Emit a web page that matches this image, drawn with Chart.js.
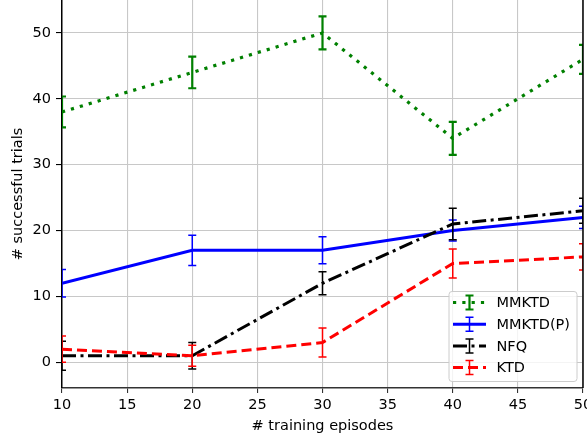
<!DOCTYPE html>
<html>
<head>
<meta charset="utf-8">
<script src="https://cdn.jsdelivr.net/npm/chart.js@4/dist/chart.umd.min.js"></script>
<style>
  html, body { margin: 0; padding: 0; background: #ffffff; }
  #wrap { width: 587px; height: 441px; }
</style>
</head>
<body>
<div id="wrap"><canvas id="c" width="587" height="441"></canvas></div>
<script>
// Training episodes on the x axis
const episodes = [10, 20, 30, 40, 50];

// Mean number of successful trials and the half-width of each error bar
const mmktd      = [38, 44, 50, 34, 46];
const mmktdErr   = [2.35, 2.4, 2.5, 2.5, 2.2];
const mmktdP     = [12, 17, 17, 20, 22];
const mmktdPErr  = [2.1, 2.3, 2.05, 1.6, 1.7];
const nfq        = [1, 1, 12, 21, 23];
const nfqErr     = [2.2, 2.0, 1.75, 2.4, 1.9];
const ktd        = [2, 1, 3, 15, 16];
const ktdErr     = [2.0, 1.6, 2.2, 2.2, 2.0];

const xTicks = [10, 15, 20, 25, 30, 35, 40, 45, 50];
const yTicks = [0, 10, 20, 30, 40, 50];

const FONT = "'DejaVu Sans', sans-serif";
const FONT_SIZE = 14.5;

function pts(ys) { return episodes.map((x, i) => ({ x: x, y: ys[i] })); }

const series = [
  { label: 'MMKTD',    values: mmktd,  err: mmktdErr,  color: '#008000', width: 3.2, dash: [3.2, 6.1],           errWidth: 2.2, order: 4 },
  { label: 'MMKTD(P)', values: mmktdP, err: mmktdPErr, color: '#0000ff', width: 3,   dash: [],                   errWidth: 1.5, order: 3 },
  { label: 'NFQ',      values: nfq,    err: nfqErr,    color: '#000000', width: 3,   dash: [14, 4.5, 3, 4.5],    errWidth: 1.5, order: 2 },
  { label: 'KTD',      values: ktd,    err: ktdErr,    color: '#ff0000', width: 3,   dash: [10, 5],              errWidth: 1.5, order: 1 }
];

// Vertical error bars with caps, drawn right after each dataset's line
const errorBars = {
  id: 'errorBars',
  afterDatasetDraw(chart, args) {
    const s = series[args.index];
    const ctx = chart.ctx;
    const yScale = chart.scales.y;
    const area = chart.chartArea;
    ctx.save();
    ctx.beginPath();
    ctx.rect(area.left, area.top, area.right - area.left, area.bottom - area.top);
    ctx.clip();
    ctx.strokeStyle = s.color;
    ctx.lineWidth = s.errWidth;
    ctx.setLineDash([]);
    args.meta.data.forEach((p, i) => {
      const v = s.values[i], e = s.err[i];
      const yTop = yScale.getPixelForValue(v + e);
      const yBot = yScale.getPixelForValue(v - e);
      const cap = 4;
      ctx.beginPath();
      ctx.moveTo(p.x, yTop); ctx.lineTo(p.x, yBot);
      ctx.moveTo(p.x - cap, yTop); ctx.lineTo(p.x + cap, yTop);
      ctx.moveTo(p.x - cap, yBot); ctx.lineTo(p.x + cap, yBot);
      ctx.stroke();
    });
    ctx.restore();
  }
};

// Right spine and the boxed legend in the lower right corner
const frameAndLegend = {
  id: 'frameAndLegend',
  afterDraw(chart) {
    const ctx = chart.ctx;
    const area = chart.chartArea;
    ctx.save();
    ctx.strokeStyle = '#000';
    ctx.lineWidth = 1.5;
    ctx.beginPath();
    ctx.moveTo(area.right, area.top);
    ctx.lineTo(area.right, area.bottom);
    ctx.stroke();

    const bx = 449, by = 291.5, bw = 128, bh = 90, r = 3;
    ctx.beginPath();
    ctx.moveTo(bx + r, by);
    ctx.arcTo(bx + bw, by, bx + bw, by + bh, r);
    ctx.arcTo(bx + bw, by + bh, bx, by + bh, r);
    ctx.arcTo(bx, by + bh, bx, by, r);
    ctx.arcTo(bx, by, bx + bw, by, r);
    ctx.closePath();
    ctx.fillStyle = 'rgba(255,255,255,0.8)';
    ctx.fill();
    ctx.strokeStyle = '#cccccc';
    ctx.lineWidth = 1;
    ctx.stroke();

    series.forEach((s, i) => {
      const y = 302.5 + i * 21.7;
      ctx.strokeStyle = s.color;
      ctx.lineWidth = s.width;
      ctx.setLineDash(s.dash);
      ctx.beginPath();
      ctx.moveTo(453, y); ctx.lineTo(486, y);
      ctx.stroke();
      ctx.setLineDash([]);
      ctx.lineWidth = s.errWidth;
      const cx = 469.5, h = 7, cap = 4;
      ctx.beginPath();
      ctx.moveTo(cx, y - h); ctx.lineTo(cx, y + h);
      ctx.moveTo(cx - cap, y - h); ctx.lineTo(cx + cap, y - h);
      ctx.moveTo(cx - cap, y + h); ctx.lineTo(cx + cap, y + h);
      ctx.stroke();
      ctx.fillStyle = '#000';
      ctx.font = FONT_SIZE + 'px ' + FONT;
      ctx.textBaseline = 'middle';
      ctx.textAlign = 'left';
      ctx.fillText(s.label, 496.5, y + 1);
    });
    ctx.restore();
  }
};

new Chart(document.getElementById('c'), {
  type: 'line',
  data: {
    datasets: series.map(s => ({
      label: s.label,
      data: pts(s.values),
      borderColor: s.color,
      backgroundColor: s.color,
      borderWidth: s.width,
      borderDash: s.dash,
      borderCapStyle: 'butt',
      pointRadius: 0,
      fill: false,
      tension: 0,
      order: s.order
    }))
  },
  options: {
    responsive: false,
    animation: false,
    devicePixelRatio: 1,
    layout: { padding: { top: 0, right: 4, left: 0, bottom: 0 } },
    plugins: { legend: { display: false }, tooltip: { enabled: false } },
    scales: {
      x: {
        type: 'linear',
        min: 10, max: 50,
        afterBuildTicks: sc => { sc.ticks = xTicks.map(v => ({ value: v })); },
        afterFit: sc => { sc.height = 53; sc.paddingLeft = 0; sc.paddingRight = 0; },
        grid: { color: '#c8c8c8', lineWidth: 1.1, drawTicks: true, tickLength: 5, tickColor: '#333' },
        border: { color: '#333', width: 1.5 },
        ticks: { color: '#000', font: { family: FONT, size: FONT_SIZE }, padding: 4, maxRotation: 0, autoSkip: false },
        title: { display: true, text: '# training episodes', color: '#000', font: { family: FONT, size: FONT_SIZE }, padding: { top: 0, bottom: 6 } }
      },
      y: {
        type: 'linear',
        min: -3.9, max: 55,
        afterBuildTicks: sc => { sc.ticks = yTicks.map(v => ({ value: v })); },
        afterFit: sc => { sc.width = 62; sc.paddingTop = 0; sc.paddingBottom = 0; },
        grid: { color: '#c8c8c8', lineWidth: 1.1, drawTicks: true, tickLength: 6, tickColor: '#000' },
        border: { color: '#000', width: 1.5 },
        ticks: { color: '#000', font: { family: FONT, size: FONT_SIZE }, padding: 5, autoSkip: false },
        title: { display: true, text: '# successful trials', color: '#000', font: { family: FONT, size: FONT_SIZE }, padding: { top: 10, bottom: 0 } }
      }
    }
  },
  plugins: [errorBars, frameAndLegend]
});
</script>
</body>
</html>
